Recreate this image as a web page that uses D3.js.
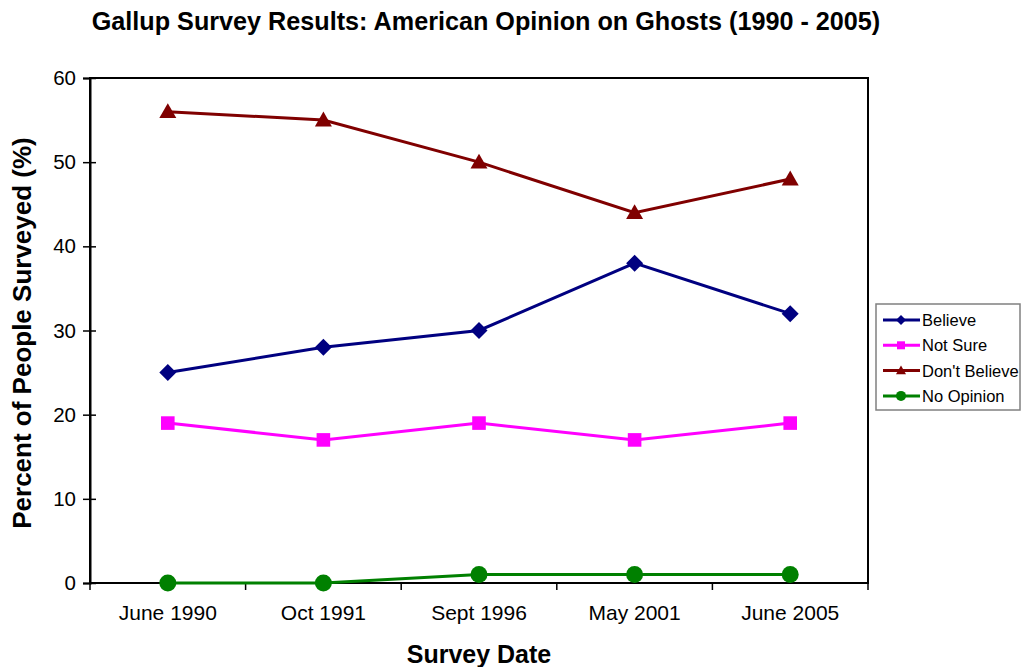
<!DOCTYPE html>
<html><head><meta charset="utf-8">
<script src="https://cdn.jsdelivr.net/npm/d3@7"></script>
<style>body{margin:0;background:#fff}svg{display:block;font-family:"Liberation Sans",Arial,sans-serif}</style>
</head><body><svg id="c" width="1021" height="667"></svg>
<script>
const categories = ["June 1990","Oct 1991","Sept 1996","May 2001","June 2005"];
const believe = [25,28,30,38,32];
const notSure = [19,17,19,17,19];
const dontBelieve = [56,55,50,44,48];
const noOpinion = [0,0,1,1,1];
const yTicks = [0,10,20,30,40,50,60];
const seriesNames = ["Believe","Not Sure","Don't Believe","No Opinion"];
const seriesColors = ["#000080","#FF00FF","#800000","#008000"];
const seriesShapes = ["diamond","square","triangle","circle"];

const series = [believe, notSure, dontBelieve, noOpinion].map((v,i)=>({name:seriesNames[i],values:v,color:seriesColors[i],shape:seriesShapes[i]}));

const svg = d3.select("#c");
const L=90,R=868,T=78,B=583;
const x = d3.scaleBand().domain(categories).range([L,R]);
const y = d3.scaleLinear().domain([0,60]).range([B,T]);

svg.append("rect").attr("x",L).attr("y",T).attr("width",R-L).attr("height",B-T).attr("fill","#fff").attr("stroke","#000").attr("stroke-width",2);

const FF = "Liberation Sans, Arial, sans-serif";
const ya = svg.append("g").attr("transform",`translate(${L},0)`).call(d3.axisLeft(y).tickValues(yTicks).tickSize(7).tickPadding(7));
ya.select(".domain").attr("stroke","#000").attr("stroke-width",2);
ya.selectAll(".tick line").attr("x2",6).attr("x1",-7).attr("stroke-width",1.5);
ya.selectAll(".tick text").attr("font-size",20.5).attr("fill","#000").attr("font-family",FF);

const xa = svg.append("g").attr("transform",`translate(0,${B})`).call(d3.axisBottom(x).tickSize(0).tickPadding(22));
xa.select(".domain").remove();
xa.selectAll(".tick text").attr("font-size",21).attr("fill","#000").attr("font-family",FF);
const bounds = categories.map(c=>x(c)).concat([x(categories[categories.length-1])+x.bandwidth()]);
svg.append("g").selectAll("line").data(bounds).join("line")
  .attr("x1",d=>d).attr("x2",d=>d).attr("y1",B).attr("y2",B+7).attr("stroke","#000").attr("stroke-width",1.5);

function shapePath(shape, s){
  if(shape==="diamond") return `M0,${-s}L${s},0L0,${s}L${-s},0Z`;
  if(shape==="square") return `M${-s*0.8},${-s*0.8}H${s*0.8}V${s*0.8}H${-s*0.8}Z`;
  if(shape==="triangle") return `M0,${-s}L${s},${s*0.75}L${-s},${s*0.75}Z`;
  return d3.symbol().type(d3.symbolCircle).size(Math.PI*s*s)();
}

const line = d3.line().x((d,i)=>x(categories[i])+x.bandwidth()/2).y(d=>y(d));
series.forEach(s=>{
  svg.append("path").attr("d",line(s.values)).attr("fill","none").attr("stroke",s.color).attr("stroke-width",3);
  svg.append("g").selectAll("path").data(s.values).join("path")
    .attr("d",shapePath(s.shape,8.5)).attr("fill",s.color)
    .attr("transform",(d,i)=>`translate(${x(categories[i])+x.bandwidth()/2},${y(d)})`);
});

svg.append("text").attr("x",486).attr("y",30).attr("text-anchor","middle").attr("font-size",25.2).attr("font-weight","bold").text("Gallup Survey Results: American Opinion on Ghosts (1990 - 2005)");
svg.append("text").attr("x",479).attr("y",663).attr("text-anchor","middle").attr("font-size",25).attr("font-weight","bold").text("Survey Date");
svg.append("text").attr("transform","translate(31,333) rotate(-90)").attr("text-anchor","middle").attr("font-size",26).attr("font-weight","bold").text("Percent of People Surveyed (%)");

const lg = svg.append("g");
lg.append("rect").attr("x",876).attr("y",304).attr("width",144).attr("height",106).attr("fill","#fff").attr("stroke","#808080").attr("stroke-width",1.5);
series.forEach((s,i)=>{
  const yy = 320 + i*25.3;
  lg.append("line").attr("x1",883).attr("x2",920).attr("y1",yy).attr("y2",yy).attr("stroke",s.color).attr("stroke-width",3);
  lg.append("path").attr("d",shapePath(s.shape,5)).attr("fill",s.color).attr("transform",`translate(901,${yy})`);
  lg.append("text").attr("x",922).attr("y",yy+6).attr("font-size",16.5).text(s.name);
});
</script></body></html>
